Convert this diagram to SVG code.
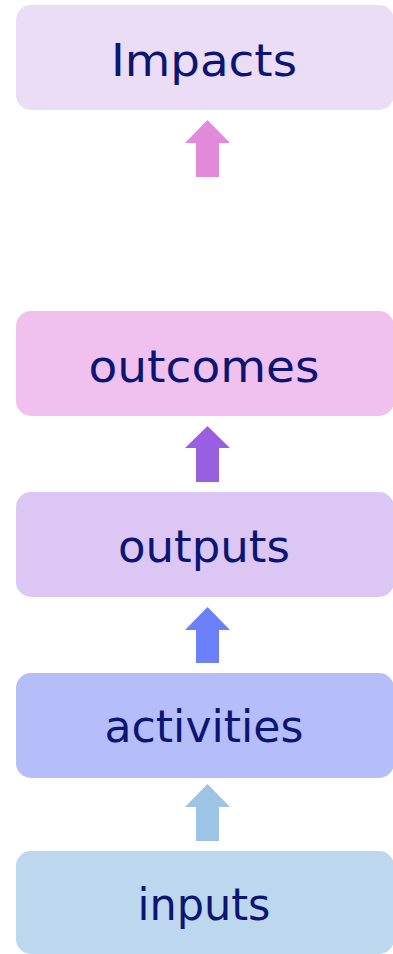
<svg xmlns="http://www.w3.org/2000/svg" width="393" height="954" viewBox="0 0 393 954">
<style>
.box{stroke:none}
.lbl{font-family:"DejaVu Sans","Liberation Sans",sans-serif;font-size:44px;fill:#0C1572;text-anchor:middle}
</style>
<rect width="393" height="954" fill="#ffffff"/>
<g id="impacts"><rect class="box" x="16" y="5" width="378" height="105" rx="15" fill="#EBDDF6"/><text class="lbl" x="204" y="76" textLength="186" lengthAdjust="spacingAndGlyphs">Impacts</text></g>
<g id="outcomes"><rect class="box" x="16" y="311" width="378" height="105" rx="15" fill="#F0C1EE"/><text class="lbl" x="204" y="382" textLength="231" lengthAdjust="spacingAndGlyphs">outcomes</text></g>
<g id="outputs"><rect class="box" x="16" y="492" width="378" height="105" rx="15" fill="#DCC7F4"/><text class="lbl" x="204" y="562" textLength="172" lengthAdjust="spacingAndGlyphs">outputs</text></g>
<g id="activities"><rect class="box" x="16" y="673" width="378" height="105" rx="15" fill="#B6BEF9"/><text class="lbl" x="204" y="742" textLength="199" lengthAdjust="spacingAndGlyphs">activities</text></g>
<g id="inputs"><rect class="box" x="16" y="851" width="378" height="103" rx="15" fill="#BDD7EE"/><text class="lbl" x="204" y="920" textLength="133" lengthAdjust="spacingAndGlyphs">inputs</text></g>
<g id="connectors">
<polygon points="207.5,120 230,143 219,143 219,177 196,177 196,143 185,143" fill="#E38BDB"/>
<polygon points="207.5,426 230,448 219,448 219,482 196,482 196,448 185,448" fill="#9A5FE1"/>
<polygon points="207.5,607 230,630 219,630 219,663 196,663 196,630 185,630" fill="#6C80FC"/>
<polygon points="207.5,784 230,807 219,807 219,841 196,841 196,807 185,807" fill="#9DC3E6"/>
</g>
</svg>
